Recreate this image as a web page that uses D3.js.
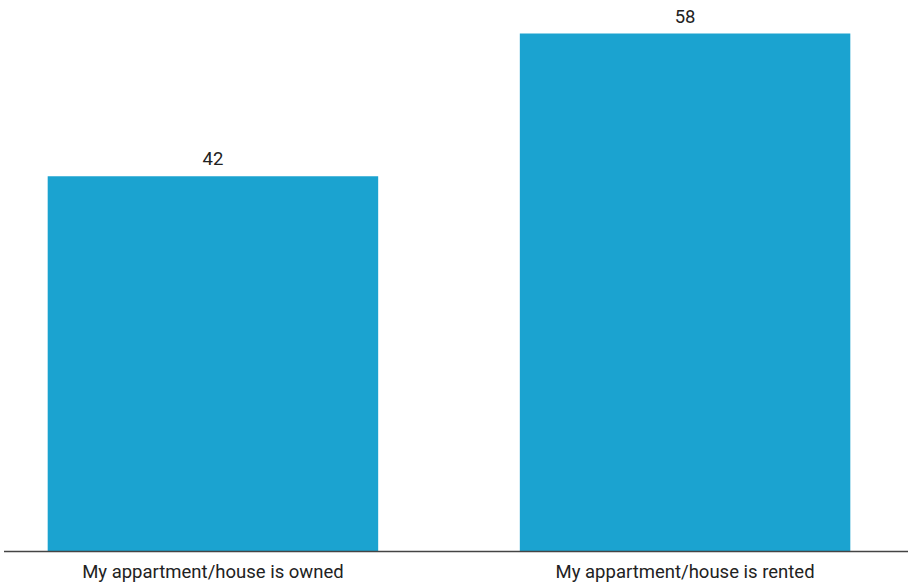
<!DOCTYPE html>
<html>
<head>
<meta charset="utf-8">
<script src="https://cdn.jsdelivr.net/npm/d3@7"></script>
<style>
  html, body { margin: 0; padding: 0; background: #fff; }
  svg { display: block; font-family: Roboto, "Noto Sans", sans-serif; }
</style>
</head>
<body>
<svg id="chart" width="908" height="583"></svg>
<script>
// Housing status: share of respondents (%)
const categories = ["My appartment/house is owned", "My appartment/house is rented"];
const values = [42, 58];

const svg = d3.select("#chart");
const baseY = 551;

const x = d3.scaleBand()
  .domain(categories)
  .range([0, 898])
  .paddingInner(0.3)
  .paddingOuter(0.101);

const y = d3.scaleLinear()
  .domain([0, 58])
  .range([baseY, 33.5]);

// bars
svg.selectAll("rect.bar")
  .data(categories)
  .join("rect")
  .attr("class", "bar")
  .attr("x", d => x(d))
  .attr("width", x.bandwidth())
  .attr("y", (d, i) => y(values[i]))
  .attr("height", (d, i) => baseY - y(values[i]))
  .attr("fill", "#1ba3d0");

// value labels above bars
svg.selectAll("text.value")
  .data(categories)
  .join("text")
  .attr("class", "value")
  .attr("x", d => x(d) + x.bandwidth() / 2)
  .attr("y", (d, i) => y(values[i]) - 11)
  .attr("text-anchor", "middle")
  .attr("font-size", 18.5)
  .attr("fill", "#222")
  .text((d, i) => values[i]);

// category axis at the baseline
const axis = svg.append("g")
  .attr("transform", `translate(0,${baseY})`)
  .call(d3.axisBottom(x).tickSize(0).tickPadding(14));
axis.select(".domain")
  .attr("d", "M4,0.5H908")
  .attr("stroke", "#444")
  .attr("stroke-width", 1.5);
axis.selectAll("text")
  .attr("font-size", 18.5)
  .attr("font-family", "Roboto, 'Noto Sans', sans-serif")
  .attr("fill", "#222");
</script>
</body>
</html>
